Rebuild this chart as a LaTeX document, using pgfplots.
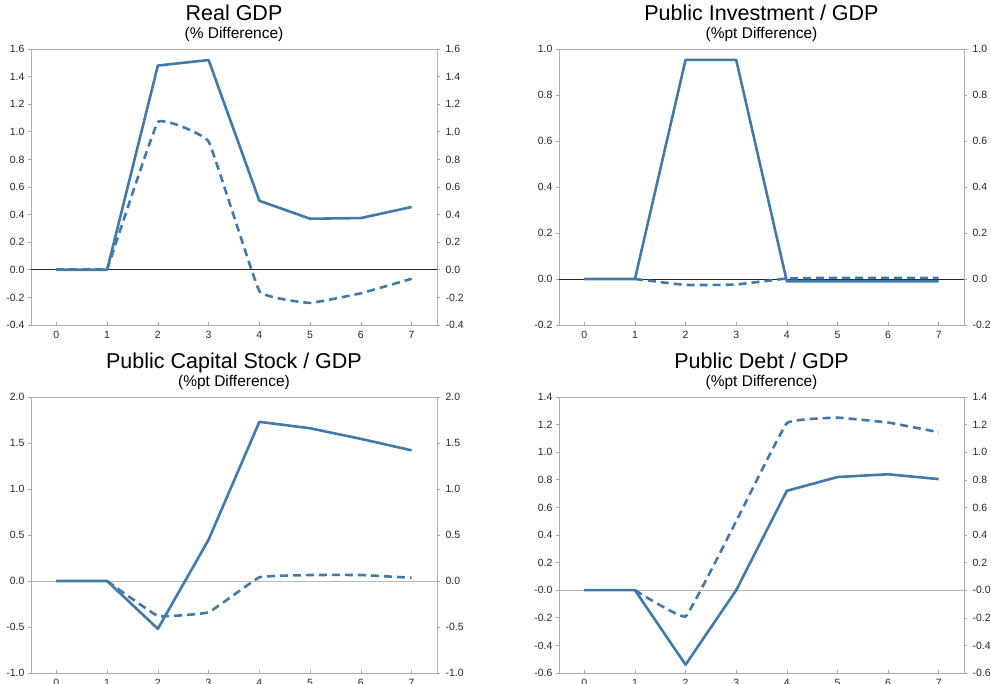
\documentclass[border=0pt]{standalone}
\usepackage{pgfplots}
\pgfplotsset{compat=1.18}
\usepackage{fontspec}
\setmainfont{Liberation Sans}
\definecolor{lblue}{RGB}{66,121,171}
\pgfplotsset{
  base/.style={scale only axis, width=406pt, height=276pt, xmin=-0.5, xmax=7.5,
    clip mode=individual,
    /pgf/number format/assume math mode=true,
    ticklabel style={font=\fontsize{10.5}{12}\selectfont, text=black!85},
    major tick length=3pt, tick style={gray!70, line width=0.6pt}},
  mainax/.style={base, xtick={0,...,7}, xticklabels={0,1,2,3,4,5,6,7}, xtick pos=bottom, ytick pos=left,
    tick align=outside, every x tick/.append style={yshift=3pt},
    axis line style={draw=gray!65, line width=0.8pt}},
  rightax/.style={base, axis x line=none, axis y line*=right, tick align=outside,
    axis line style={draw=gray!65, line width=0.8pt}, yticklabel style={xshift=2pt}},
  sol/.style={lblue, line width=2.6pt, line join=round},
  das/.style={lblue, line width=2.6pt, dash pattern=on 8pt off 5pt},
  dass/.style={das, smooth, tension=0.15},
}
\newcommand{\ttl}[2]{%
  \node[anchor=base, font=\fontsize{21.5}{24}\selectfont] at (rel axis cs:0.5,1) [yshift=28pt] {#1};
  \node[anchor=base, font=\fontsize{15.5}{17}\selectfont] at (rel axis cs:0.5,1) [yshift=10pt] {#2};}
\begin{document}
\begin{tikzpicture}
\useasboundingbox (0,0) rectangle (991pt,683pt);
% Panel 1
\begin{axis}[mainax, at={(31pt,358pt)}, anchor=south west, ymin=-0.4, ymax=1.6,
  ytick={-0.4,-0.2,0,0.2,0.4,0.6,0.8,1.0,1.2,1.4,1.6},
  yticklabels={-0.4,-0.2,0.0,0.2,0.4,0.6,0.8,1.0,1.2,1.4,1.6}]
\addplot[black!85, line width=0.7pt, forget plot] coordinates {(-0.5,0)(7.5,0)};
\addplot[sol] coordinates {(0,0)(1,0)(2,1.48)(3,1.52)(4,0.50)(5,0.37)(6,0.375)(7,0.455)};
\addplot[das] coordinates {(0,0)(1,0)};
\addplot[dass] coordinates {(1,0)(2,1.07)(3,0.93)(4,-0.155)(5,-0.24)(6,-0.17)(7,-0.065)};
\ttl{Real GDP}{(\% Difference)}
\end{axis}
\begin{axis}[rightax, at={(31pt,358pt)}, anchor=south west, ymin=-0.4, ymax=1.6,
  ytick={-0.4,-0.2,0,0.2,0.4,0.6,0.8,1.0,1.2,1.4,1.6},
  yticklabels={-0.4,-0.2,0.0,0.2,0.4,0.6,0.8,1.0,1.2,1.4,1.6}]
\end{axis}
% Panel 2
\begin{axis}[mainax, at={(559pt,358pt)}, anchor=south west, width=405pt, ymin=-0.2, ymax=1.0,
  ytick={-0.2,0,0.2,0.4,0.6,0.8,1.0},
  yticklabels={-0.2,0.0,0.2,0.4,0.6,0.8,1.0}]
\addplot[black!85, line width=0.7pt, forget plot] coordinates {(-0.5,0)(7.5,0)};
\addplot[sol] coordinates {(0,0)(1,0)(2,0.953)(3,0.953)(4,-0.01)(5,-0.01)(6,-0.01)(7,-0.01)};
\addplot[das] coordinates {(0,0)(1,0)};
\addplot[dass] coordinates {(1,0)(2,-0.026)(3,-0.024)(4,0.002)(5,0.005)(6,0.005)(7,0.005)};
\ttl{Public Investment / GDP}{(\%pt Difference)}
\end{axis}
\begin{axis}[rightax, at={(559pt,358pt)}, anchor=south west, width=405pt, ymin=-0.2, ymax=1.0,
  ytick={-0.2,0,0.2,0.4,0.6,0.8,1.0},
  yticklabels={-0.2,0.0,0.2,0.4,0.6,0.8,1.0}]
\end{axis}
% Panel 3
\begin{axis}[mainax, at={(31pt,10pt)}, anchor=south west, ymin=-1.0, ymax=2.0,
  ytick={-1,-0.5,0,0.5,1,1.5,2},
  yticklabels={-1.0,-0.5,0.0,0.5,1.0,1.5,2.0}]
\addplot[gray!55, line width=0.9pt, forget plot] coordinates {(-0.5,0)(7.5,0)};
\addplot[sol] coordinates {(0,0)(1,0)(2,-0.52)(3,0.45)(4,1.73)(5,1.66)(6,1.545)(7,1.42)};
\addplot[das] coordinates {(0,0)(1,0)};
\addplot[dass] coordinates {(1,0)(2,-0.38)(3,-0.34)(4,0.04)(5,0.065)(6,0.065)(7,0.035)};
\ttl{Public Capital Stock / GDP}{(\%pt Difference)}
\end{axis}
\begin{axis}[rightax, at={(31pt,10pt)}, anchor=south west, ymin=-1.0, ymax=2.0,
  ytick={-1,-0.5,0,0.5,1,1.5,2},
  yticklabels={-1.0,-0.5,0.0,0.5,1.0,1.5,2.0}]
\end{axis}
% Panel 4
\begin{axis}[mainax, at={(559pt,10pt)}, anchor=south west, width=405pt, ymin=-0.6, ymax=1.4,
  ytick={-0.6,-0.4,-0.2,0,0.2,0.4,0.6,0.8,1.0,1.2,1.4},
  yticklabels={-0.6,-0.4,-0.2,-0.0,0.2,0.4,0.6,0.8,1.0,1.2,1.4}]
\addplot[gray!55, line width=0.9pt, forget plot] coordinates {(-0.5,0)(7.5,0)};
\addplot[sol] coordinates {(0,0)(1,0)(2,-0.54)(3,0.0)(4,0.72)(5,0.82)(6,0.84)(7,0.805)};
\addplot[das] coordinates {(0,0)(1,0)};
\addplot[dass] coordinates {(1,0)(2,-0.19)(3,0.5)(4,1.21)(5,1.25)(6,1.215)(7,1.145)};
\ttl{Public Debt / GDP}{(\%pt Difference)}
\end{axis}
\begin{axis}[rightax, at={(559pt,10pt)}, anchor=south west, width=405pt, ymin=-0.6, ymax=1.4,
  ytick={-0.6,-0.4,-0.2,0,0.2,0.4,0.6,0.8,1.0,1.2,1.4},
  yticklabels={-0.6,-0.4,-0.2,-0.0,0.2,0.4,0.6,0.8,1.0,1.2,1.4}]
\end{axis}
\end{tikzpicture}
\end{document}
